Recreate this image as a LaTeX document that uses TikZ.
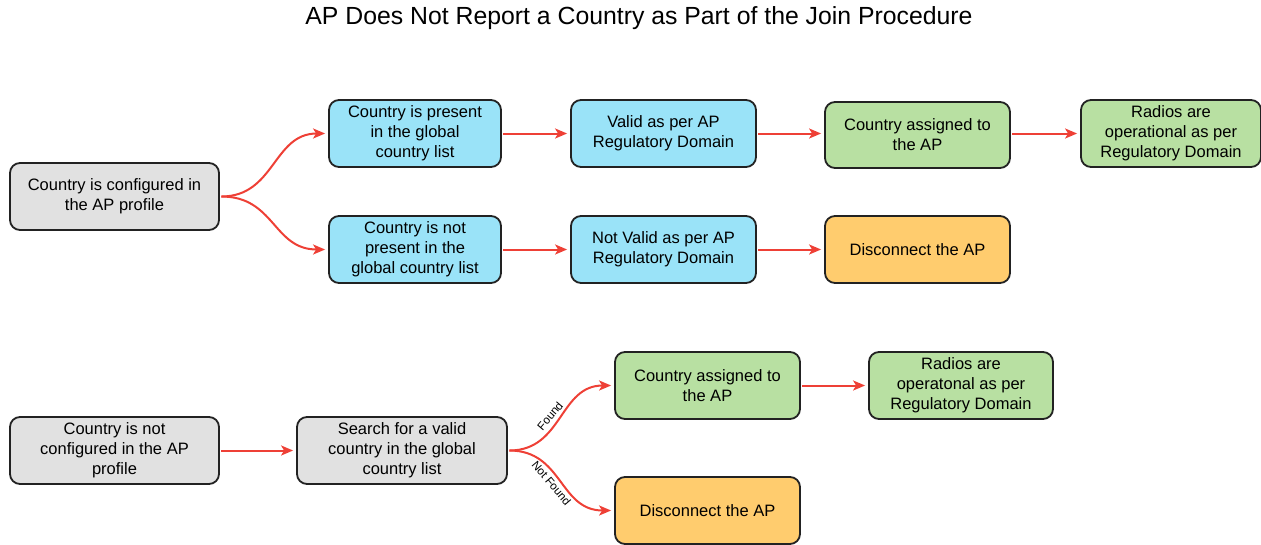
\documentclass[tikz,border=0pt]{standalone}
\usepackage{fontspec}
\setmainfont{Liberation Sans}
\usetikzlibrary{arrows.meta}
\definecolor{boxgray}{HTML}{E1E1E1}
\definecolor{boxcyan}{HTML}{9AE3F8}
\definecolor{boxgreen}{HTML}{B8E0A2}
\definecolor{boxorange}{HTML}{FFCC6E}
\definecolor{arrred}{HTML}{EE4036}
\definecolor{edgegray}{HTML}{222222}
\tikzset{
  box/.style={draw=edgegray, line width=1.8pt, rounded corners=10pt, align=center,
    inner sep=2pt, font=\fontsize{16.5}{20}\selectfont, text=black},
  graybox/.style={box, fill=boxgray, minimum width=209pt, minimum height=67pt},
  cyanbox/.style={box, fill=boxcyan, minimum height=67pt},
  greenbox/.style={box, fill=boxgreen, minimum width=185pt, minimum height=67pt},
  orangebox/.style={box, fill=boxorange, minimum width=185pt, minimum height=67pt},
  conn/.style={draw=arrred, line width=2pt, shorten <=1.5pt, shorten >=3pt,
    -{Stealth[length=12pt,width=10pt,inset=3pt]}},
  lbl/.style={font=\fontsize{11.5}{13}\selectfont, text=black},
}
\begin{document}
\begin{tikzpicture}[x=1pt,y=-1pt]
\useasboundingbox (0,0) rectangle (1261,544);
\node[font=\fontsize{24.8}{28}\selectfont] (title) at (639,18) {AP Does Not Report a Country as Part of the Join Procedure};

\node[graybox] (A) at (114.5,196.5) {Country is configured in\\the AP profile};
\node[cyanbox, minimum width=172pt] (B1) at (415,133.5) {Country is present\\in the global\\country list};
\node[cyanbox, minimum width=172pt] (B2) at (415,249.5) {Country is not\\present in the\\global country list};
\node[cyanbox, minimum width=185pt] (C1) at (663.5,133.5) {Valid as per AP\\Regulatory Domain};
\node[cyanbox, minimum width=185pt] (C2) at (663.5,249.5) {Not Valid as per AP\\Regulatory Domain};
\node[greenbox, minimum height=66pt] (D1) at (917.5,135) {Country assigned to\\the AP};
\node[orangebox] (D2) at (917.5,249.5) {Disconnect the AP};
\node[greenbox, minimum width=180pt] (E1) at (1171,133.5) {Radios are\\operational as per\\Regulatory Domain};

\node[graybox] (F) at (114.5,450.5) {Country is not\\configured in the AP\\profile};
\node[graybox, minimum width=210pt] (G) at (402,450.5) {Search for a valid\\country in the global\\country list};
\node[greenbox] (H1) at (707.5,385.5) {Country assigned to\\the AP};
\node[orangebox] (H2) at (707.5,510.5) {Disconnect the AP};
\node[greenbox, minimum width=184pt] (I) at (961,385.5) {Radios are\\operatonal as per\\Regulatory Domain};

\draw[conn] (A.east) .. controls +(55,0) and +(-55,0) .. (B1.west);
\draw[conn] (A.east) .. controls +(55,0) and +(-55,0) .. (B2.west);
\draw[conn] (B1) -- (C1);
\draw[conn] (C1) -- (D1.west |- C1);
\draw[conn] (D1.east |- C1) -- (E1);
\draw[conn] (B2) -- (C2);
\draw[conn] (C2) -- (D2);
\draw[conn] (F) -- (G);
\draw[conn] (G.east) .. controls +(55,0) and +(-55,0) .. (H1.west);
\draw[conn] (G.east) .. controls +(55,0) and +(-55,0) .. (H2.west);
\draw[conn] (H1) -- (I);

\node[lbl, rotate=50] (found) at (550,416) {Found};
\node[lbl, rotate=-50] (notfound) at (551.5,483) {Not Found};
\end{tikzpicture}
\end{document}
